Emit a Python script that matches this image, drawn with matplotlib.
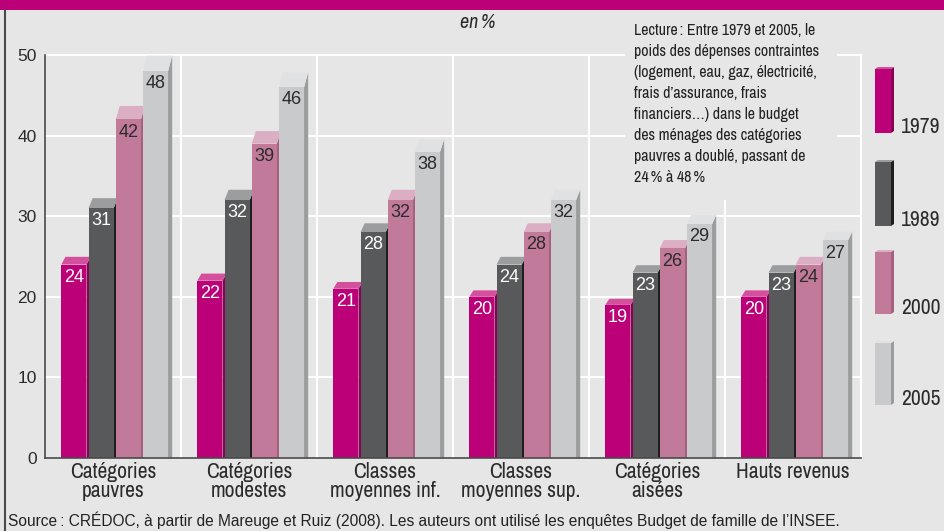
import matplotlib.pyplot as plt
from matplotlib.patches import Polygon, Rectangle

# data
categories = ['Catégories\npauvres', 'Catégories\nmodestes', 'Classes\nmoyennes inf.',
              'Classes\nmoyennes sup.', 'Catégories\naisées', 'Hauts revenus']
years = ['1979', '1989', '2000', '2005']
v1979 = [24, 22, 21, 20, 19, 20]
v1989 = [31, 32, 28, 24, 23, 23]
v2000 = [42, 39, 32, 28, 26, 24]
v2005 = [48, 46, 38, 32, 29, 27]
series = [v1979, v1989, v2000, v2005]

# colours: front, top, side
front = ['#bc0077', '#58595b', '#c27a9b', '#c9cacc']
top = ['#d3509c', '#9c9d9f', '#dcaec4', '#e0e1e2']
side = ['#8a0057', '#1e1e1e', '#a5617f', '#9b9c9e']
txtcol = ['white', 'white', '#2b2b2b', '#2b2b2b']

bg = '#e6e6e6'
W, H = 945, 531
narrow = ['Archivo Narrow', 'Liberation Sans', 'DejaVu Sans']
regular = ['Liberation Sans', 'DejaVu Sans']


def fx(x):
    return x / W


def fy(y):
    return 1 - y / H


fig = plt.figure(figsize=(9.45, 5.31), dpi=100)
fig.patch.set_facecolor(bg)
ax = fig.add_axes([fx(45), fy(458), (861 - 45) / W, (458 - 55) / H])
ax.set_facecolor(bg)
ax.set_xlim(0, 6)
ax.set_ylim(0, 50)

# grid (back wall)
for y in range(10, 51, 10):
    ax.plot([0, 6], [y, y], color='white', lw=1.5, zorder=0.5, clip_on=False)
for x in range(1, 7):
    ax.plot([x, x], [0, 50], color='white', lw=1.5, zorder=0.5, clip_on=False)

# 3D-looking bars
w = 0.185
dx = 0.03
k = 1.04
for j, vals in enumerate(series):
    z = 2 + j
    for i, v in enumerate(vals):
        xl = i + 0.12 + 0.2 * j
        xr = xl + w
        ax.add_patch(Polygon([(xr, 0), (xr, v), (xr + dx, k * v), (xr + dx, 0)],
                             closed=True, facecolor=side[j], edgecolor='none',
                             zorder=z, clip_on=False))
        ax.add_patch(Polygon([(xl, v), (xr, v), (xr + dx, k * v), (xl + dx, k * v)],
                             closed=True, facecolor=top[j], edgecolor='none',
                             zorder=z, clip_on=False))
        ax.bar(xl, v, width=w, align='edge', color=front[j], zorder=z + 0.1)
        ax.annotate(str(v), (xl + w / 2, v), xytext=(0, -3), textcoords='offset points',
                    ha='center', va='top', fontsize=13, family=regular,
                    color=txtcol[j], zorder=z + 0.2)

for s in ['top', 'right']:
    ax.spines[s].set_visible(False)
for s in ['left', 'bottom']:
    ax.spines[s].set_color('#4a4a4a')
    ax.spines[s].set_linewidth(1.2)
    ax.spines[s].set_zorder(8)

ax.set_yticks(range(0, 51, 10))
ax.set_yticklabels([str(t) for t in range(0, 51, 10)], family=regular, fontsize=12.5,
                   color='#2b2b2b')
ax.set_xticks([i + 0.5 for i in range(6)])
ax.set_xticklabels(categories, family=narrow, fontsize=15.5, color='#2b2b2b',
                   linespacing=0.9, va='top')
ax.tick_params(axis='both', length=0)
ax.tick_params(axis='y', pad=6)
ax.tick_params(axis='x', pad=3)

# legend with little 3D boxes
leg_y = [(69, 133), (162, 226), (252, 314), (343, 405)]
for j, (y0, y1) in enumerate(leg_y):
    fig.add_artist(Polygon([(fx(891), fy(y1)), (fx(891), fy(y0)), (fx(894), fy(y0 - 2)),
                            (fx(894), fy(y1 - 2))], closed=True,
                           facecolor=side[j], edgecolor='none'))
    fig.add_artist(Polygon([(fx(875), fy(y0)), (fx(891), fy(y0)), (fx(894), fy(y0 - 2)),
                            (fx(878), fy(y0 - 2))], closed=True,
                           facecolor=top[j], edgecolor='none'))
    fig.add_artist(Rectangle((fx(875), fy(y1)), fx(16), (y1 - y0) / H,
                             facecolor=front[j], edgecolor='none'))
    fig.text(fx(901), fy(y1), years[j], family=narrow, fontsize=15.5, color='#2b2b2b',
             ha='left', va='baseline')

# reading note
fig.add_artist(Rectangle((fx(625), fy(200)), fx(212), 182 / H, facecolor=bg,
                         edgecolor='none', zorder=3))
note = ('Lecture\u2009: Entre 1979 et 2005, le\n'
        'poids des dépenses contraintes\n'
        '(logement, eau, gaz, électricité,\n'
        'frais d’assurance, frais\n'
        'financiers…) dans le budget\n'
        'des ménages des catégories\n'
        'pauvres a doublé, passant de\n'
        '24\u2009% à 48\u2009%')
fig.text(fx(634), fy(23), note, family=narrow, fontsize=11.5, color='#222222',
         ha='left', va='top', linespacing=1.5, zorder=4)

fig.text(fx(478), fy(23), 'en\u2009%', family=narrow, style='italic', fontsize=14.5,
         color='#2b2b2b', ha='center', va='center')

# frame bits: magenta band and left border
fig.add_artist(Rectangle((0, fy(10)), 1, 10 / H, facecolor='#bc0077', edgecolor='none'))
fig.add_artist(plt.Line2D([fx(5), fx(5)], [fy(10), 0], color='#4a4a4a', lw=1.5))

fig.text(fx(8), fy(526), 'Source\u2009: CRÉDOC, à partir de Mareuge et Ruiz (2008). '
         'Les auteurs ont utilisé les enquêtes Budget de famille de l’INSEE.',
         family=regular, fontsize=11.2, color='#222222', ha='left', va='baseline')

fig.savefig('out.png', dpi=100, facecolor=bg)
